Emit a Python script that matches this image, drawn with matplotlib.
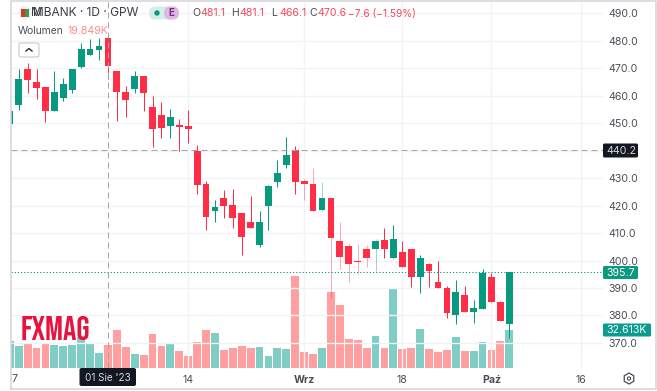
#!/usr/bin/env python3
"""MBANK daily candles with volume, TradingView style."""

import matplotlib
matplotlib.use("Agg")
import matplotlib.pyplot as plt
from matplotlib.patches import Circle, FancyBboxPatch, Rectangle, RegularPolygon

plt.rcParams["font.family"] = ["Inter", "DejaVu Sans"]

# ---------------------------------------------------------------------------
# Data. Index -1 is the clipped candle at the left edge.
# ---------------------------------------------------------------------------
INDEX = list(range(-1, 56))
OPEN = [449.6, 456.5, 469.7, 464.9, 463.0, 454.4, 459.2, 462.0, 470.4, 474.8, 476.7, 481.1,
        468.9, 461.3, 462.3, 467.1, 455.8, 452.9, 449.0, 449.2, 448.8, 439.8, 427.8, 418.0,
        422.6, 420.2, 417.2, 414.1, 405.6, 419.9, 428.4, 434.7, 440.1, 428.8, 428.0, 418.4,
        422.8, 407.0, 405.2, 399.9, 404.1, 404.3, 407.6, 401.0, 403.2, 404.1, 394.1, 398.8,
        392.1, 390.1, 380.1, 387.5, 381.4, 382.5, 393.9, 384.9, 376.8]
HIGH = [454.4, 469.5, 471.7, 469.5, 463.0, 468.8, 466.5, 469.7, 479.3, 480.7, 481.0, 481.1,
        468.9, 463.5, 468.8, 467.1, 460.0, 457.5, 455.0, 451.5, 454.7, 442.0, 428.9, 422.0,
        425.6, 426.0, 417.3, 423.5, 418.0, 427.5, 436.5, 444.8, 441.6, 429.6, 433.7, 428.4,
        422.8, 413.9, 406.3, 406.0, 405.6, 407.8, 411.7, 413.0, 407.1, 404.1, 401.9, 399.0,
        399.8, 390.7, 392.9, 390.7, 385.6, 396.9, 395.6, 385.3, 396.0]
LOW = [449.6, 454.7, 460.8, 458.7, 450.5, 454.4, 458.0, 461.0, 470.1, 474.8, 472.9, 466.1,
       450.8, 452.1, 461.0, 454.5, 441.4, 444.7, 444.7, 440.0, 442.6, 424.2, 411.1, 413.9,
       415.6, 411.7, 402.0, 411.9, 405.0, 411.1, 426.8, 433.7, 424.2, 422.0, 418.1, 418.1,
       386.4, 396.9, 392.3, 395.1, 397.5, 396.2, 400.9, 401.0, 397.6, 390.3, 388.1, 390.5,
       389.9, 379.0, 376.8, 381.4, 377.4, 382.5, 385.0, 378.1, 371.9]
CLOSE = [454.4, 466.0, 465.5, 462.8, 454.4, 461.2, 464.3, 469.7, 476.8, 476.8, 478.0, 470.6,
         461.2, 458.4, 467.1, 461.0, 447.8, 448.1, 452.3, 448.6, 447.7, 427.5, 415.9, 419.6,
         419.9, 415.6, 408.7, 411.9, 413.9, 427.0, 431.7, 438.4, 428.7, 427.9, 418.1, 422.8,
         408.3, 401.2, 398.6, 399.5, 400.8, 407.1, 404.3, 407.8, 397.6, 394.0, 400.8, 396.2,
         389.9, 380.8, 388.5, 381.4, 382.7, 395.3, 385.0, 378.1, 395.7]
VOLUME = [23.1, 19.1, 20.5, 17.1, 20.5, 19.7, 18.8, 19.4, 26.2, 20.5, 12.8, 19.849,
          32.5, 18.0, 12.0, 11.4, 29.4, 19.1, 21.4, 14.3, 10.3, 22.2, 32.8, 30.2,
          15.4, 17.1, 18.8, 17.1, 18.0, 10.3, 17.1, 16.2, 78.7, 13.7, 11.7, 16.8,
          65.0, 53.9, 24.5, 23.9, 16.8, 27.6, 17.4, 67.5, 16.2, 17.4, 33.3, 16.2,
          13.7, 15.4, 26.5, 14.8, 14.8, 22.5, 15.7, 23.1, 32.613]
# the volume colour does not always follow the candle body in the picture
VOLUME_UP = [1, 1, 0, 0, 0, 1, 1, 1, 1, 1, 1, 0, 0, 0, 1, 0, 0, 0, 1, 0, 0, 0, 0, 1,
             0, 0, 0, 0, 1, 1, 1, 1, 0, 0, 0, 1, 0, 0, 0, 0, 0, 1, 0, 1, 0, 0, 1, 0,
             0, 0, 1, 0, 1, 1, 0, 0, 1]
PALE_WICKS = [32, 33, 34, 35, 36, 37, 38, 39, 40]

PRICE_TICKS = [370, 380, 390, 400, 410, 420, 430, 440, 450, 460, 470, 480, 490]
DATE_TICKS = [19, 32, 43, 53, 63]
DATE_LABELS = ["14", "Wrz", "18", "Paź", "16"]
BOLD_DATES = ["Wrz", "Paź"]
CROSS_INDEX = 10
CROSS_PRICE = 440.2
LAST_PRICE = 395.7

W, H = 657, 391
UP = "#089981"
DOWN = "#ff2d46"
VOL_UP = "#7fcdc5"
VOL_DOWN = "#ff9f9f"
GRID = "#f2f3f5"
TEXT = "#4a4d57"
ONE_PX = 0.72


def px_axes(fig, left, top, right, bottom, **kwargs):
    return fig.add_axes([left / W, 1 - bottom / H, (right - left) / W, (bottom - top) / H], **kwargs)


fig = plt.figure(figsize=(W / 100, H / 100), dpi=100, facecolor="white")
ax = px_axes(fig, 10.5, 1, 603, 368, zorder=2)
ax.set_facecolor("none")
ax.set_xlim(-0.92, 65.5)
ax.set_ylim(360.9, 494.4)

ax_vol = px_axes(fig, 10.5, 1, 603, 368, zorder=1)
ax_vol.set_xlim(ax.get_xlim())
ax_vol.set_ylim(0, 313.8)
ax_vol.axis("off")

for p in PRICE_TICKS:
    ax.axhline(p, color=GRID, lw=ONE_PX * 1.4, zorder=0)
for d in DATE_TICKS:
    ax.axvline(d, color=GRID, lw=ONE_PX * 1.4, zorder=0)

vol_colors = [VOL_UP if u else VOL_DOWN for u in VOLUME_UP]
ax_vol.bar(INDEX, VOLUME, width=0.88, color=vol_colors, linewidth=0)

for i, o, h, l, c in zip(INDEX, OPEN, HIGH, LOW, CLOSE):
    color = UP if c >= o else DOWN
    pale = i in PALE_WICKS
    ax.vlines(i, l, h, color=color, lw=ONE_PX, alpha=0.4 if pale else 1, zorder=3)
    ax.bar(i, max(abs(c - o), 0.4), bottom=min(o, c), width=0.76, color=color, linewidth=0, zorder=4)

ax.axhline(CROSS_PRICE, color="#a3a5ab", lw=ONE_PX, dashes=(6, 4), zorder=5)
ax.axvline(CROSS_INDEX, color="#a3a5ab", lw=ONE_PX, dashes=(6, 4), zorder=5)
ax.axhline(LAST_PRICE, color=UP, lw=ONE_PX, dashes=(1.2, 2), zorder=5)

ax.yaxis.tick_right()
# 440.0 is hidden behind the crosshair tag in the picture
ax.set_yticks(PRICE_TICKS, ["" if p == 440 else f"{p:.1f}" for p in PRICE_TICKS])
ax.set_xticks(DATE_TICKS, DATE_LABELS)
ax.tick_params(axis="both", length=0, labelsize=7.6, labelcolor=TEXT, pad=4)
ax.tick_params(axis="x", pad=5)
for lab in ax.get_xticklabels():
    if lab.get_text() in BOLD_DATES:
        lab.set_fontweight("bold")
for side in ax.spines.values():
    side.set_visible(False)

# overlay in figure pixels for the labels, header and frame
ov = fig.add_axes([0, 0, 1, 1], zorder=6)
ov.set_xlim(0, W)
ov.set_ylim(H, 0)
ov.axis("off")
ov.patch.set_alpha(0)

ov.plot([10.5, 10.5, 655.5, 655.5, 10.5], [389, 1, 1, 389, 389], color="#d4d5d8", lw=1.1, zorder=1)
ov.text(11, 379, "7", fontsize=7.6, color=TEXT, va="center", ha="left")

# price tags
ov.add_patch(FancyBboxPatch((603, 143.5), 35, 14, boxstyle="round,pad=0,rounding_size=1.5", fc="#131722", ec="none"))
ov.text(621, 150.7, "440.2", fontsize=7.6, color="#d6d7da", ha="center", va="center")
ov.add_patch(FancyBboxPatch((603, 266), 35, 13, boxstyle="round,pad=0,rounding_size=1.5", fc=UP, ec="none"))
ov.text(621, 272.5, "395.7", fontsize=7.6, color="white", ha="center", va="center")
ov.add_patch(FancyBboxPatch((603, 323.5), 48, 13, boxstyle="round,pad=0,rounding_size=1.5", fc="#0a9c8c", ec="none"))
ov.text(627, 330, "32.613K", fontsize=7.6, color="white", ha="center", va="center")

# crosshair date tag
ov.add_patch(FancyBboxPatch((79.5, 368), 56.5, 18, boxstyle="round,pad=0,rounding_size=2", fc="#131722", ec="none"))
ov.text(108, 378, "01 Sie '23", fontsize=7.2, color="#d6d7da", ha="center", va="center")

# watermark
ov.text(20.5, 328, "FXMAG", fontsize=24, color="#e8123f", va="center", ha="left",
        family=["Bebas Neue", "Liberation Sans"], fontweight="bold")

# header
ov.add_patch(Circle((25, 13), 6.5, fc="#eef0f3", ec="none"))
ov.add_patch(Rectangle((21, 9), 4, 8, fc="#d9352b", ec="none"))
ov.add_patch(Rectangle((25, 9), 4, 8, fc="#3f9a4c", ec="none"))
ov.text(31, 13.5, "M", fontsize=8.6, color="#3a3d46", va="center", ha="left")
ov.text(33, 13.5, "MBANK · 1D · GPW", fontsize=8.6, color="#3a3d46", va="center", ha="left")
ov.add_patch(FancyBboxPatch((149, 6.5), 30, 13, boxstyle="round,pad=0,rounding_size=6.5", fc="#d3eeea", ec="none"))
ov.add_patch(FancyBboxPatch((164, 6.5), 15, 13, boxstyle="round,pad=0,rounding_size=6.5", fc="#dcb8e0", ec="none"))
ov.add_patch(Circle((157, 13), 2.7, fc=UP, ec="none"))
ov.text(171, 13.3, "E", fontsize=7, color="#7b2a8c", fontweight="bold", va="center", ha="center")

RED_TEXT = "#f9475c"
for x, head, val in [(192, "O", "481.1"), (231, "H", "481.1"), (271, "L", "466.1"), (309, "C", "470.6")]:
    ov.text(x, 13.5, head, fontsize=7.6, color=TEXT, va="center", ha="left")
    ov.text(x + 8, 13.5, val, fontsize=7.6, color=RED_TEXT, va="center", ha="left")
ov.text(348, 13.5, "−7.6 (−1.59%)", fontsize=7.3, color=RED_TEXT, va="center", ha="left")

ov.text(18, 31.5, "Wolumen", fontsize=7.4, color=TEXT, va="center", ha="left")
ov.text(67, 31.5, "19.849K", fontsize=7.6, color="#ff8a8a", va="center", ha="left")
ov.add_patch(FancyBboxPatch((19, 43), 20, 14, boxstyle="round,pad=0,rounding_size=2", fc="white", ec="#c8cad0", lw=0.8))
ov.plot([26, 29, 32], [51, 48.5, 51], color="#2a2e39", lw=1)

# settings icon in the corner
ov.add_patch(RegularPolygon((629, 378.5), 6, radius=5.5, fc="white", ec="#4a4d57", lw=0.9))
ov.add_patch(Circle((629, 378.5), 1.6, fc="white", ec="#4a4d57", lw=0.8))

fig.savefig("out.png", dpi=100)
plt.close(fig)
